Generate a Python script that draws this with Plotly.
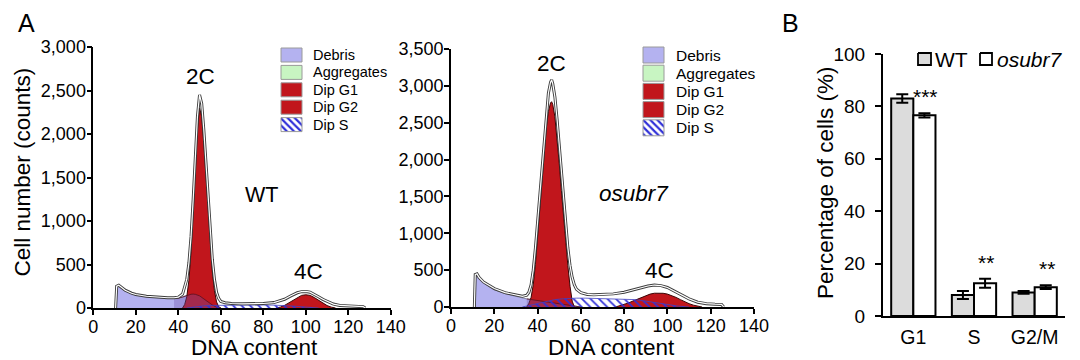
import plotly.graph_objects as go

# ---------------- Panel A: WT histogram (DNA content vs counts) ----------------
wt_total_x = [10.5, 11, 12, 13, 15, 18, 20, 25, 30, 35, 38, 40, 42, 44, 45, 46, 47, 48, 49, 50, 51, 52, 53, 54,
              55, 56, 57, 58, 59, 60, 62, 65, 70, 75, 80, 85, 88, 90, 93, 96, 98, 100, 102, 104, 106, 108, 110,
              113, 116, 120, 124, 127, 128]
wt_total = [0, 250, 262, 240, 205, 170, 155, 135, 125, 118, 118, 125, 160, 330, 520, 820, 1250, 1750, 2200, 2450,
            2350, 2050, 1650, 1250, 880, 560, 330, 180, 110, 75, 60, 52, 48, 48, 52, 62, 80, 100, 140, 175, 188,
            190, 182, 160, 130, 100, 75, 45, 30, 22, 18, 15, 0]
wt_debris_x = [10.5, 11, 12, 13, 15, 18, 20, 25, 30, 35, 38, 40, 42, 44, 46, 47, 48, 50, 52, 54, 56, 58, 60]
wt_debris = [0, 235, 245, 225, 195, 165, 150, 130, 120, 113, 112, 113, 125, 145, 158, 160, 157, 140, 110, 70, 35,
             10, 0]
wt_g1_x = [42, 43, 44, 45, 46, 47, 48, 49, 50, 51, 52, 53, 54, 55, 56, 57, 58, 59, 60]
wt_g1 = [0, 40, 130, 320, 650, 1100, 1600, 2050, 2300, 2200, 1900, 1500, 1100, 720, 420, 200, 70, 15, 0]
wt_g2_x = [86, 88, 90, 92, 94, 96, 98, 100, 102, 104, 106, 108, 110, 112, 114]
wt_g2 = [0, 10, 30, 60, 95, 125, 145, 152, 145, 120, 90, 55, 28, 10, 0]
wt_s_x = [44, 48, 52, 56, 60, 65, 70, 75, 80, 85, 90, 94, 98, 102, 106]
wt_s = [0, 15, 25, 30, 32, 33, 34, 34, 34, 33, 30, 22, 14, 6, 0]

# ---------------- Panel A: osubr7 histogram ----------------
mu_total_x = [10.8, 11.2, 12, 13, 15, 18, 20, 25, 30, 33, 35, 36, 37, 38, 39, 40, 41, 42, 43, 44, 45, 46, 46.5,
              47, 48, 49, 50, 51, 52, 53, 54, 55, 56, 57, 58, 60, 63, 66, 70, 75, 80, 84, 88, 91, 94, 97, 100,
              103, 106, 110, 114, 118, 122, 125, 126]
mu_total = [0, 440, 450, 400, 340, 280, 250, 195, 160, 145, 160, 200, 300, 500, 800, 1150, 1520, 1900, 2300, 2650,
            2900, 3050, 3080, 3030, 2850, 2550, 2200, 1800, 1450, 1100, 800, 560, 400, 300, 240, 195, 170, 165,
            168, 178, 200, 230, 265, 285, 298, 290, 265, 220, 170, 110, 65, 45, 38, 35, 0]
mu_debris_x = [10.8, 11.2, 12, 13, 15, 18, 20, 25, 30, 35, 40, 45, 50, 55, 60]
mu_debris = [0, 430, 440, 390, 325, 265, 235, 180, 140, 110, 90, 70, 45, 20, 0]
mu_g1_x = [35, 36, 37, 38, 39, 40, 41, 42, 43, 44, 45, 46, 46.5, 47, 48, 49, 50, 51, 52, 53, 54, 55, 56, 57]
mu_g1 = [0, 50, 130, 300, 580, 950, 1320, 1700, 2100, 2420, 2650, 2770, 2785, 2750, 2580, 2300, 1950, 1580, 1220,
         880, 560, 280, 80, 0]
mu_g2_x = [76, 78, 80, 82, 84, 86, 88, 90, 92, 94, 96, 98, 100, 102, 104, 106, 108, 110, 112, 114, 116]
mu_g2 = [0, 15, 35, 55, 80, 105, 130, 155, 175, 187, 190, 186, 175, 155, 130, 100, 70, 45, 25, 10, 0]
mu_s_x = [33, 36, 40, 44, 48, 52, 55, 58, 62, 66, 70, 75, 80, 85, 90, 95, 100, 105, 110]
mu_s = [0, 20, 50, 80, 100, 112, 118, 120, 120, 118, 116, 112, 108, 100, 80, 55, 30, 12, 0]

legend_names = ["Debris", "Aggregates", "Dip G1", "Dip G2", "Dip S"]

# ---------------- Panel B: percentages ----------------
phases = ["G1", "S", "G2/M"]
wt_pct = [83.0, 8.0, 9.0]
wt_err = [1.6, 1.5, 0.5]
mut_pct = [76.6, 12.5, 11.0]
mut_err = [0.8, 1.7, 0.7]
stars = ["***", "**", "**"]

FONT = "Liberation Sans, Arial, sans-serif"
LAV = "#b4b2f0"
GREEN = "#c8f5c2"
RED = "#c1161c"
HATCH = "#3030d8"

fig = go.Figure()


def area(x, y, xa, ya, fillcolor, linecolor, lw=1.0, pattern=None):
    kw = {}
    if pattern is not None:
        kw["fillpattern"] = pattern
    fig.add_trace(go.Scatter(x=x, y=y, xaxis=xa, yaxis=ya, mode="lines", fill="tozeroy",
                             fillcolor=fillcolor, line=dict(color=linecolor, width=lw),
                             hoverinfo="skip", showlegend=False, **kw))


def histogram_panel(xa, ya, tx, ty, dx, dy, gx, gy, g2x, g2y, sx, sy, overlay_from):
    area(dx, dy, xa, ya, LAV, "#6a6a8a", 0.8)
    area(gx, gy, xa, ya, RED, "#3a0505", 1.0)
    area(g2x, g2y, xa, ya, RED, "#3a0505", 1.0)
    ox = [v for v in dx if v >= overlay_from]
    oy = [c for v, c in zip(dx, dy) if v >= overlay_from]
    area(ox, oy, xa, ya, "rgba(110,80,170,0.35)", "#5a1020", 0.8)
    area(sx, sy, xa, ya, "rgba(0,0,0,0)", "#4040c0", 0.8,
         pattern=dict(shape="\\", fgcolor=HATCH, bgcolor="rgba(0,0,0,0)", size=6, solidity=0.3))
    for col, w in (("#3c3c3c", 3.0), ("white", 1.2)):
        fig.add_trace(go.Scatter(x=tx, y=ty, xaxis=xa, yaxis=ya, mode="lines",
                                 line=dict(color=col, width=w), hoverinfo="skip", showlegend=False))


histogram_panel("x", "y", wt_total_x, wt_total, wt_debris_x, wt_debris, wt_g1_x, wt_g1,
                wt_g2_x, wt_g2, wt_s_x, wt_s, 38)
histogram_panel("x2", "y2", mu_total_x, mu_total, mu_debris_x, mu_debris, mu_g1_x, mu_g1,
                mu_g2_x, mu_g2, mu_s_x, mu_s, 33)

# bars
fig.add_trace(go.Bar(x=phases, y=wt_pct, xaxis="x3", yaxis="y3", name="WT",
                     marker=dict(color="#dcdcdc", line=dict(color="black", width=2)),
                     error_y=dict(type="data", array=wt_err, color="black", thickness=2, width=6),
                     showlegend=False, hoverinfo="skip"))
fig.add_trace(go.Bar(x=phases, y=mut_pct, xaxis="x3", yaxis="y3", name="osubr7",
                     marker=dict(color="white", line=dict(color="black", width=2)),
                     error_y=dict(type="data", array=mut_err, color="black", thickness=2, width=6),
                     showlegend=False, hoverinfo="skip"))


# ---------------- overlay pixel-space axis for legends / labels ----------------
def swatch(x0, y0, x1, y1, fill, line="#9a9a9a", lw=1.0, pattern=None):
    kw = {}
    if pattern is not None:
        kw["fillpattern"] = pattern
    fig.add_trace(go.Scatter(x=[x0, x1, x1, x0, x0], y=[y0, y0, y1, y1, y0], xaxis="x4", yaxis="y4",
                             mode="lines", fill="toself", fillcolor=fill, line=dict(color=line, width=lw),
                             hoverinfo="skip", showlegend=False, **kw))


annotations = []


def label(x, y, text, size, xanchor="center", angle=0, italic=False):
    annotations.append(dict(x=x, y=y, xref="x4", yref="y4", text=text, showarrow=False,
                            xanchor=xanchor, yanchor="middle", textangle=angle,
                            font=dict(family=FONT, size=size, color="black",
                                      style="italic" if italic else "normal")))


legend_fills = [LAV, GREEN, RED, RED, "white"]
for (sx0, sx1, tx0, y0, step, h, fs) in ((281, 302, 311, 55, 17.4, 14, 14.5),
                                          (643, 664, 674, 55, 18.2, 16, 15.5)):
    for i, name in enumerate(legend_names):
        cy = y0 + i * step
        pat = None
        if name == "Dip S":
            pat = dict(shape="\\", fgcolor=HATCH, bgcolor="white", size=5, solidity=0.45)
        swatch(sx0, cy - h / 2, sx1, cy + h / 2, legend_fills[i], pattern=pat)
        label(tx0, cy, name, fs, xanchor="left")

# panel B legend
swatch(918, 53, 931, 65, "#dcdcdc", line="black", lw=1.8)
swatch(980, 53, 992, 65, "white", line="black", lw=1.8)
label(933, 59.5, "WT", 21, xanchor="left")
label(995, 59.5, "osubr7", 21, xanchor="left", italic=True)

# text labels
label(26, 23, "A", 25)
label(790, 23, "B", 25)
label(22, 172.5, "Cell number (counts)", 22.5, angle=-90)
label(254.5, 347, "DNA content", 22.5)
label(611.5, 347, "DNA content", 22.5)
label(825, 183, "Percentage of cells (%)", 22.5, angle=-90)
label(200.5, 76.5, "2C", 22.5)
label(308, 271.5, "4C", 22.5)
label(261.5, 194.5, "WT", 21.5)
label(551.5, 63.5, "2C", 22.5)
label(659, 270, "4C", 22.5)
label(634, 193.5, "osubr7", 22.5, italic=True)

# significance stars (data-anchored)
for i, s in enumerate(stars):
    annotations.append(dict(x=i + 0.2, y=mut_pct[i] + mut_err[i] + 5.5, xref="x3", yref="y3", text=s,
                            showarrow=False, xanchor="center", yanchor="middle", yshift=2,
                            font=dict(family=FONT, size=21, color="black")))

W, H = 1080, 360
ax_common = dict(showgrid=False, zeroline=False, showline=True, linecolor="black", ticks="outside",
                 tickcolor="black", automargin=False, tickfont=dict(family=FONT, size=18, color="black"))

fig.update_layout(
    template="none",
    width=W, height=H, margin=dict(l=0, r=0, t=0, b=0, autoexpand=False),
    paper_bgcolor="white", plot_bgcolor="rgba(0,0,0,0)",
    font=dict(family=FONT, color="black"),
    showlegend=False, hovermode=False,
    barmode="group", bargap=0.27, bargroupgap=0.0,
    xaxis=dict(domain=[93.3 / W, 390.8 / W], range=[0, 140], dtick=20, anchor="y",
               linewidth=1.6, ticklen=5, tickwidth=1.5, ticklabelstandoff=-3, **ax_common),
    yaxis=dict(domain=[(H - 308) / H, (H - 47) / H], range=[0, 3000], dtick=500, tickformat=",d",
               anchor="x", linewidth=1.6, ticklen=5, tickwidth=1.5, ticklabelstandoff=-3, **ax_common),
    xaxis2=dict(domain=[451 / W, 754 / W], range=[0, 140], dtick=20, anchor="y2",
                linewidth=1.6, ticklen=5, tickwidth=1.5, ticklabelstandoff=-3, **ax_common),
    yaxis2=dict(domain=[(H - 307) / H, (H - 49) / H], range=[0, 3500], dtick=500, tickformat=",d",
                anchor="x2", linewidth=1.6, ticklen=5, tickwidth=1.5, ticklabelstandoff=-3, **ax_common),
    xaxis3=dict(domain=[883 / W, 1065 / W], range=[-0.5, 2.5], anchor="y3", type="category",
                showgrid=False, zeroline=False, showline=True, linecolor="black", linewidth=2,
                ticks="", automargin=False, ticklabelstandoff=3,
                tickfont=dict(family=FONT, size=19.5, color="black")),
    yaxis3=dict(domain=[(H - 316) / H, (H - 54) / H], range=[0, 100], dtick=20, anchor="x3",
                linewidth=2, ticklen=6, tickwidth=2, ticklabelstandoff=6, **ax_common),
    xaxis4=dict(domain=[0, 1], range=[0, W], visible=False, anchor="y4", fixedrange=True),
    yaxis4=dict(domain=[0, 1], range=[H, 0], visible=False, anchor="x4", fixedrange=True),
    annotations=annotations,
)
fig.update_layout(yaxis3_tickfont=dict(family=FONT, size=19, color="black"))

fig.write_html("out.html", config={"displayModeBar": False},
               post_script="document.body.style.margin='0';document.body.style.overflow='hidden';")
